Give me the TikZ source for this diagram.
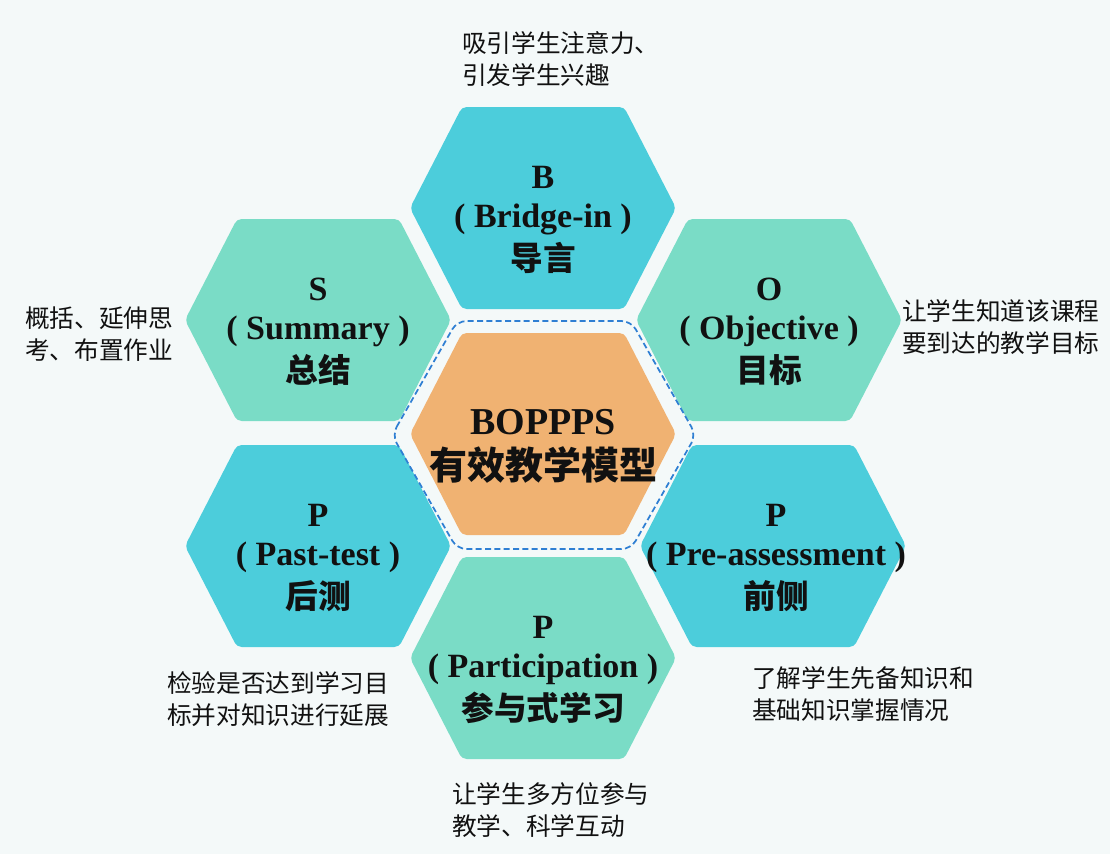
\documentclass[tikz,border=0pt]{standalone}
\usepackage{fontspec}
\setmainfont{Liberation Serif}
\newfontfamily\cjk{Noto Sans CJK SC}
\definecolor{bgcol}{HTML}{F4F9F9}
\definecolor{hexblue}{HTML}{4CCDDB}
\definecolor{hexteal}{HTML}{7ADCC6}
\definecolor{hexorange}{HTML}{F0B272}
\definecolor{dashblue}{HTML}{2F7FD3}
\definecolor{txt}{HTML}{111111}
\newcommand\hexat[3]{%
  \fill[#3,rounded corners=3.5pt] (#1-133,#2) -- (#1-81,#2-101) -- (#1+81,#2-101)
    -- (#1+133,#2) -- (#1+81,#2+101) -- (#1-81,#2+101) -- cycle;}
\newcommand\hexlabels[6]{%
  \node[lat] (#1a) at (#2,#3-31) {#4};
  \node[lat] (#1b) at (#2,#3+11) {( #5 )};
  \node[zh]  (#1c) at (#2,#3+50) {#6};}
\begin{document}
\begin{tikzpicture}[x=0.75pt,y=-0.75pt,
  lat/.style={font=\fontsize{25.5pt}{28pt}\selectfont\bfseries, text=txt, inner sep=0pt},
  zh/.style={font=\cjk\fontsize{24.5pt}{28pt}\selectfont\bfseries, text=txt, inner sep=0pt},
  note/.style={font=\cjk\fontsize{18.5pt}{23.5pt}\selectfont, text=txt, align=left, anchor=west, inner sep=0pt}]
\fill[bgcol] (0,0) rectangle (1110,854);
\useasboundingbox (0,0) rectangle (1110,854);
% hexagons
\hexat{543}{208}{hexblue}
\hexat{318}{320}{hexteal}
\hexat{769}{320}{hexteal}
\hexat{318}{546}{hexblue}
\hexat{773}{546}{hexblue}
\hexat{543}{658}{hexteal}
\hexat{543}{434}{hexorange}
% dashed outline round the centre
\draw[dashblue, line width=1.3pt, dash pattern=on 4.5pt off 2.5pt, rounded corners=7pt]
  (544-152,435) -- (544-87,435-114) -- (544+87,435-114) -- (544+152,435)
  -- (544+87,435+114) -- (544-87,435+114) -- cycle;
% labels inside
\hexlabels{b}{543}{208}{B}{Bridge-in}{导言}
\hexlabels{s}{318}{320}{S}{Summary}{总结}
\hexlabels{o}{769}{320}{O}{Objective}{目标}
\hexlabels{pt}{318}{546}{P}{Past-test}{后测}
\hexlabels{pa}{776}{546}{P}{Pre-assessment}{前侧}
\hexlabels{pp}{543}{658}{P}{Participation}{参与式学习}
\node[font=\fontsize{28.5pt}{32pt}\selectfont\bfseries, text=txt, inner sep=0pt] (ca) at (543,422) {BOPPPS};
\node[font=\cjk\fontsize{28.5pt}{32pt}\selectfont\bfseries, text=txt, inner sep=0pt] (cb) at (543,465) {有效教学模型};
% notes
\node[note] (nb) at (462,59) {吸引学生注意力、\\引发学生兴趣};
\node[note] (ns) at (25,334) {概括、延伸思\\考、布置作业};
\node[note] (no) at (902,327) {让学生知道该课程\\要到达的教学目标};
\node[note] (npt) at (167,699) {检验是否达到学习目\\标并对知识进行延展};
\node[note] (npa) at (752,694) {了解学生先备知识和\\基础知识掌握情况};
\node[note] (npp) at (452,810) {让学生多方位参与\\教学、科学互动};
\end{tikzpicture}
\end{document}
